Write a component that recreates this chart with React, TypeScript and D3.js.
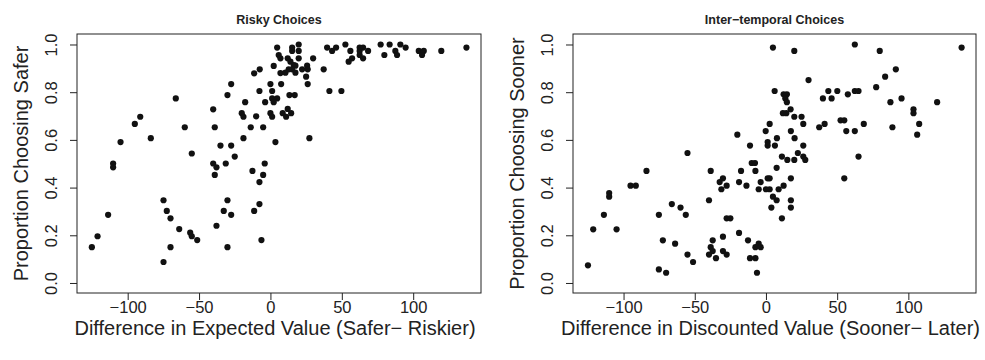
import React, { useEffect, useRef } from 'react';
import * as d3 from 'd3';

// Risky choices: difference in EV vs proportion choosing safer
const riskyX = [
  4.7, 5.8, 7.0, -11.4, -7.5, 2.3, 7.0, -27.5, 0, 7.5, -30.1, -7.7, 1.2, -66.3, 1.2, 4.7, 2.3,
  -17.7, -3.7, -40.1, -20.1, -18.9, -10.0, 0, 1.2, -91.2, -95.0, -60.0, -39.0, -13.8, -5.1,
  -18.9, 3.5, -105.0, -83.8, -55.1, -35.0, -27.5, -25.0, -110.2, -110.2, -40.1, -37.8, -31.3,
  -4.0, -39.0, -12.6, -5.1, -7.7, -74.9, -30.1, -72.6, -32.7, -27.5, -11.4, -7.7, -113.7,
  -70.0, -37.8, -63.9, -56.2, -55.1, -51.3, -121.1, -125.1, -70.0, -30.1, -6.3, -74.9,
  15.2, 19.8, 15.2, 19.8, 12.1, 14.0, 16.3, 17.5, 19.8, 29.9, 15.2, 12.8, 10.5, 17.5, 22.2,
  25.7, 26.1, 25.0, 26.1, 37.3, 13.3, 17.0, 41.3, 49.7, 8.6, 11.0, 12.1, 14.5, 27.3, 39.7,
  43.2, 46.0, 52.5, 56.0, 57.2, 54.8, 62.5, 64.9, 62.5, 62.5, 64.9, 68.4, 77.2, 83.5, 91.0,
  79.8, 87.5, 88.7, 94.7, 103.9, 107.4, 106.2, 119.7, 137.3
];
const riskyY = [
  0.987, 0.956, 0.942, 0.879, 0.896, 0.910, 0.880, 0.834, 0.834, 0.834, 0.788, 0.805, 0.805,
  0.774, 0.774, 0.774, 0.758, 0.758, 0.758, 0.728, 0.712, 0.697, 0.699, 0.712, 0.697, 0.697,
  0.667, 0.653, 0.653, 0.653, 0.653, 0.607, 0.591, 0.591, 0.607, 0.543, 0.576, 0.576, 0.530,
  0.501, 0.485, 0.501, 0.485, 0.501, 0.501, 0.453, 0.470, 0.453, 0.423, 0.347, 0.347, 0.302,
  0.302, 0.286, 0.302, 0.331, 0.286, 0.271, 0.240, 0.226, 0.211, 0.196, 0.180, 0.196, 0.150,
  0.150, 0.150, 0.180, 0.088,
  0.987, 1.0, 0.973, 0.973, 0.942, 0.928, 0.914, 0.911, 0.942, 0.942, 0.896, 0.896, 0.882,
  0.882, 0.896, 0.911, 0.896, 0.865, 0.834, 0.896, 0.788, 0.788, 0.805, 0.805, 0.712, 0.697,
  0.730, 0.712, 0.607, 0.987, 0.973, 0.987, 1.0, 0.973, 0.942, 0.928, 0.987, 0.987, 0.973,
  0.956, 0.942, 0.973, 1.0, 1.0, 1.0, 0.956, 0.973, 0.956, 0.987, 0.973, 0.973, 0.956, 0.973,
  0.987
];

// Inter-temporal choices: difference in discounted value vs proportion choosing sooner
const temporalX = [
  4.9, 6.1, 2.6, -0.2, 7.7, -20.1, -11.2, 1.2, 1.2, 6.3, -55.1, -10.0, -7.7,
  19.9, 62.4, 79.9, 137.4, 91.2, 83.7, 29.9, 77.4, 12.4, 14.7, 13.6, 14.7, 40.0, 43.8, 46.1,
  50.1, 57.5, 62.4, 65.0, 87.4, 95.2, 120.2, 103.6, 103.6, 11.9, 14.3, 17.3, 19.9, 25.0, 26.2,
  37.4, 41.2, 52.4, 55.0, 56.4, 62.4, 68.7, 88.8, 107.6, 106.2, 17.5, 20.1, 26.2, 22.4, 11.2,
  15.0, 19.9, 26.2, 27.6, 65.0,
  7.5, 2.6, 17.5, 55.0, 2.6, 8.9, 12.4, 4.9, 7.5, 17.5, 17.5, 3.8, 11.2,
  -125.0, -121.3, -113.8, -110.1, -110.1, -104.9, -95.1, -91.4, -83.9, -75.2, -72.4, -75.2,
  -70.1, -66.1, -63.8, -60.0, -56.3, -55.1, -51.2, -40.0, -38.8, -32.5, -30.2, -31.3, -27.6,
  -27.6, -25.0, -18.9, -17.5, -13.7, -7.4, -3.7, 1.2, -5.1, 0, -37.4, -38.8, -37.4, -40.0,
  -35.1, -30.2, -30.2, -27.6, -18.9, -12.6, -7.4, -5.1, -3.7, -11.2, -7.4, -6.3
];
const temporalY = [
  0.987, 0.805, 0.667, 0.637, 0.607, 0.622, 0.576, 0.591, 0.576, 0.576, 0.545, 0.503, 0.503,
  0.973, 1.0, 0.973, 0.987, 0.896, 0.865, 0.851, 0.821, 0.791, 0.791, 0.774, 0.758, 0.774,
  0.805, 0.774, 0.805, 0.791, 0.805, 0.805, 0.758, 0.774, 0.758, 0.728, 0.712, 0.712, 0.712,
  0.728, 0.697, 0.697, 0.667, 0.653, 0.667, 0.682, 0.682, 0.637, 0.637, 0.667, 0.653, 0.667,
  0.622, 0.637, 0.607, 0.576, 0.545, 0.530, 0.516, 0.516, 0.530, 0.516, 0.530,
  0.483, 0.439, 0.439, 0.439, 0.393, 0.393, 0.408, 0.362, 0.347, 0.347, 0.316, 0.316, 0.271,
  0.074, 0.225, 0.286, 0.377, 0.362, 0.225, 0.408, 0.408, 0.470, 0.286, 0.179, 0.057, 0.043,
  0.331, 0.165, 0.316, 0.286, 0.119, 0.088, 0.347, 0.470, 0.423, 0.439, 0.393, 0.408, 0.271,
  0.271, 0.423, 0.470, 0.408, 0.470, 0.423, 0.439, 0.393, 0.393, 0.179, 0.150, 0.134, 0.119,
  0.104, 0.194, 0.134, 0.119, 0.210, 0.179, 0.150, 0.165, 0.150, 0.104, 0.104, 0.043
];

const xTicks = [-100, -50, 0, 50, 100];
const yTicks = [0, 0.2, 0.4, 0.6, 0.8, 1.0];

const panels = [
  {
    title: 'Risky Choices',
    xLabel: 'Difference in Expected Value (Safer\u2212 Riskier)',
    yLabel: 'Proportion Choosing Safer',
    xs: riskyX,
    ys: riskyY,
    left: 77,
    right: 481,
  },
  {
    title: 'Inter\u2212temporal Choices',
    xLabel: 'Difference in Discounted Value (Sooner\u2212 Later)',
    yLabel: 'Proportion Choosing Sooner',
    xs: temporalX,
    ys: temporalY,
    left: 573,
    right: 976,
  },
];

const App = () => {
  const ref = useRef<SVGSVGElement>(null);

  useEffect(() => {
    const svg = d3.select(ref.current);
    svg.selectAll('*').remove();

    const top = 34;
    const bottom = 293;
    const font = 'Liberation Sans, Arial, Helvetica, sans-serif';

    panels.forEach(p => {
      const x = d3.scaleLinear().domain([-135.5, 147.5]).range([p.left, p.right]);
      const y = d3.scaleLinear().domain([-0.042, 1.044]).range([bottom, top]);
      const g = svg.append('g');

      g.append('rect')
        .attr('x', p.left)
        .attr('y', top)
        .attr('width', p.right - p.left)
        .attr('height', bottom - top)
        .attr('fill', 'none')
        .attr('stroke', '#222')
        .attr('stroke-width', 1);

      const xAxis = g.append('g')
        .attr('transform', `translate(0,${bottom})`)
        .call(d3.axisBottom(x).tickValues(xTicks).tickSize(7)
          .tickFormat(d => d3.format('d')(d as number).replace('-', '\u2212')));
      xAxis.select('.domain').remove();
      xAxis.selectAll('line').attr('stroke', '#222');
      xAxis.selectAll('text')
        .attr('font-family', font)
        .attr('font-size', 16.5)
        .attr('fill', '#222')
        .attr('y', 20)
        .attr('dy', null);

      const yAxis = g.append('g')
        .attr('transform', `translate(${p.left},0)`)
        .call(d3.axisLeft(y).tickValues(yTicks).tickSize(7).tickFormat(d3.format('.1f')));
      yAxis.select('.domain').remove();
      yAxis.selectAll('line').attr('stroke', '#222');
      yAxis.selectAll('text')
        .attr('font-family', font)
        .attr('font-size', 16.5)
        .attr('fill', '#222')
        .attr('x', null)
        .attr('dy', null)
        .attr('text-anchor', 'middle')
        .attr('transform', 'translate(-20,0) rotate(-90)');

      g.append('g')
        .selectAll('circle')
        .data(p.xs.map((v, i) => [v, p.ys[i]]))
        .enter()
        .append('circle')
        .attr('cx', d => x(d[0]))
        .attr('cy', d => y(d[1]))
        .attr('r', 3.1)
        .attr('fill', '#111');

      g.append('text')
        .attr('x', (p.left + p.right) / 2)
        .attr('y', 24)
        .attr('text-anchor', 'middle')
        .attr('font-family', font)
        .attr('font-weight', 'bold')
        .attr('font-size', 12.5)
        .attr('fill', '#222')
        .text(p.title);

      g.append('text')
        .attr('x', (p.left + p.right) / 2 - 4)
        .attr('y', 335)
        .attr('text-anchor', 'middle')
        .attr('font-family', font)
        .attr('font-size', 20)
        .attr('fill', '#222')
        .text(p.xLabel);

      g.append('text')
        .attr('transform', `translate(${p.left - 49},${(top + bottom) / 2}) rotate(-90)`)
        .attr('text-anchor', 'middle')
        .attr('font-family', font)
        .attr('font-size', 20)
        .attr('fill', '#222')
        .text(p.yLabel);
    });
  }, []);

  return <svg ref={ref} width={985} height={360} style={{ position: 'absolute', left: 0, top: 0 }} />;
};

export default App;
